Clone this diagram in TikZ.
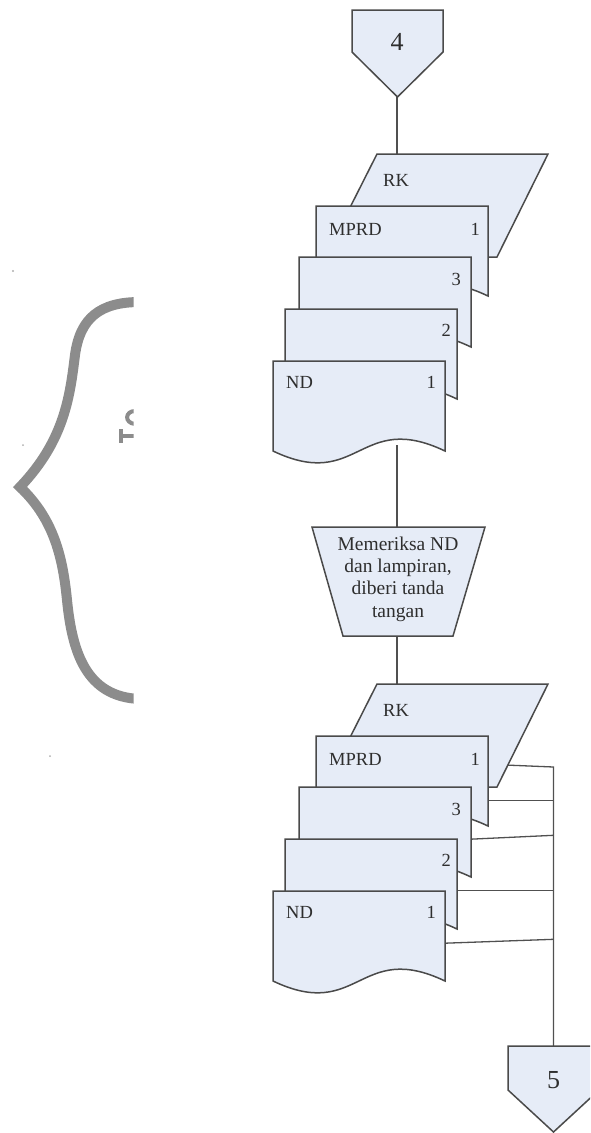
\documentclass[tikz,border=0pt]{standalone}
\usepackage{fontspec}
\setmainfont{Liberation Serif}
\definecolor{shapefill}{HTML}{E6ECF7}
\definecolor{edge}{HTML}{4A4A4A}
\definecolor{wirec}{HTML}{505050}
\definecolor{ink}{HTML}{2E2E2E}
\definecolor{markc}{HTML}{8C8C8C}

% document symbol: top-left corner (#1,#2), wavy bottom edge
\newcommand\DocShape[2]{%
  \path[box] (#1,#2) -- (#1+172,#2) -- (#1+172,#2+90)
    .. controls (#1+86,#2+49) and (#1+86,#2+131) .. (#1,#2+90) -- cycle;}
% input/output parallelogram: top-left corner (#1,#2)
\newcommand\IOShape[2]{%
  \path[box] (#1,#2) -- (#1+171,#2) -- (#1+120,#2+103) -- (#1-52,#2+103) -- cycle;}

\begin{document}
\begin{tikzpicture}[x=1pt,y=-1pt,
  box/.style={fill=shapefill,draw=edge,line width=1.5pt,line join=miter},
  wire/.style={draw=wirec,line width=1.3pt},
  lbl/.style={inner sep=0pt,text=ink,font=\fontsize{18.5}{22}\selectfont},
  proc/.style={inner sep=0pt,text=ink,align=center,font=\fontsize{19.5}{22.3}\selectfont},
  conn/.style={inner sep=0pt,text=ink,font=\fontsize{26}{30}\selectfont}]
\useasboundingbox (0,0) rectangle (590,1133);
\clip (0,0) rectangle (590,1133);

% faded bracket mark on the left
\begin{scope}
  \clip (0,250) rectangle (133.5,760);
  \draw[markc,line width=10pt,line join=miter,miter limit=10]
    (140,302) .. controls (100,302) and (80,318) .. (75,355)
    .. controls (70,395) and (65,440) .. (20,487)
    .. controls (55,520) and (63,560) .. (67,600)
    .. controls (72,650) and (85,697) .. (140,699);
  \draw[markc,line width=4pt] (135,411) .. controls (125,411) and (124,423) .. (135,424);
  \draw[markc,line width=4.5pt] (135,436) -- (121,436);
  \draw[markc,line width=4pt] (121,429) -- (121,443);
\end{scope}
\fill[markc!70] (13,271) circle (1.2);
\fill[markc!70] (23,445) circle (1);
\fill[markc!70] (50,756) circle (1);

% connection points
\coordinate (p4tip) at (397,97);
\coordinate (rk1top) at (397,154);
\coordinate (nd1bot) at (397,445);
\coordinate (trtop) at (397,527);
\coordinate (trbot) at (397,636);
\coordinate (rk2top) at (397,684);
\coordinate (b1) at (553.5,767);
\coordinate (b2) at (553.5,800.7);
\coordinate (b3) at (553.5,835.3);
\coordinate (b4) at (553.5,890.7);
\coordinate (b5) at (553.5,939.3);
\coordinate (p5top) at (553.5,1046);
\coordinate (e1) at (505,765);
\coordinate (e2) at (485,800.7);
\coordinate (e3) at (468,839.3);
\coordinate (e4) at (454,890.7);
\coordinate (e5) at (442,943.3);

% connectors
\draw[wire] (p4tip) -- (rk1top);
\draw[wire] (nd1bot) -- (trtop);
\draw[wire] (trbot) -- (rk2top);
\draw[wire] (e1) -- (b1) -- (p5top);
\draw[wire] (e2) -- (b2);
\draw[wire] (e3) -- (b3);
\draw[wire] (e4) -- (b4);
\draw[wire] (e5) -- (b5);

% off-page connector 4
\path[box] (352,10) -- (443,10) -- (443,52) -- (397.5,97) -- (352,52) -- cycle;
\node[conn] (c4) at (397,42) {4};

% first document set
\IOShape{377}{154}
\DocShape{316}{206}
\DocShape{299}{257}
\DocShape{285}{309}
\DocShape{273}{361}
\node[lbl,anchor=base west] (rk1) at (383,186) {RK};
\node[lbl,anchor=base west] (mp1) at (329,235) {MPRD};
\node[lbl,anchor=base east] (mp1n) at (480,235) {1};
\node[lbl,anchor=base east] (d3n) at (461,285) {3};
\node[lbl,anchor=base east] (d2n) at (451,336) {2};
\node[lbl,anchor=base west] (nd1) at (286,388) {ND};
\node[lbl,anchor=base east] (nd1n) at (436,388) {1};

% manual operation
\path[box] (312,527) -- (485,527) -- (453,636) -- (343,636) -- cycle;
\node[proc] (chk) at (398,579) {Memeriksa ND\\dan lampiran,\\diberi tanda\\tangan};

% second document set
\IOShape{377}{684}
\DocShape{316}{736}
\DocShape{299}{787}
\DocShape{285}{839}
\DocShape{273}{891}
\node[lbl,anchor=base west] (rk2) at (383,716) {RK};
\node[lbl,anchor=base west] (mp2) at (329,765) {MPRD};
\node[lbl,anchor=base east] (mp2n) at (480,765) {1};
\node[lbl,anchor=base east] (d3m) at (461,815) {3};
\node[lbl,anchor=base east] (d2m) at (451,866) {2};
\node[lbl,anchor=base west] (nd2) at (286,918) {ND};
\node[lbl,anchor=base east] (nd2n) at (436,918) {1};

% off-page connector 5
\path[box] (508,1046) -- (599,1046) -- (599,1090) -- (553.5,1132) -- (508,1090) -- cycle;
\node[conn] (c5) at (553.5,1080) {5};
\end{tikzpicture}
\end{document}
